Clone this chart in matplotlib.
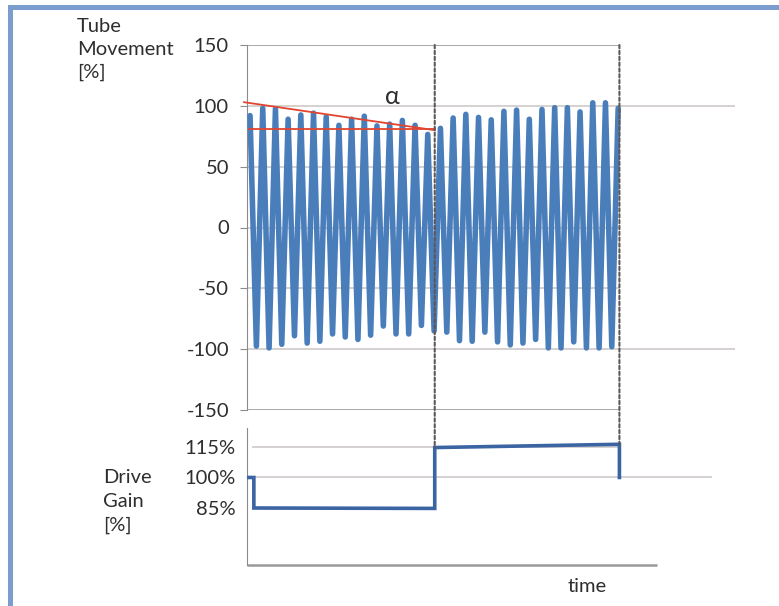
import numpy as np
import matplotlib
matplotlib.use("Agg")
import matplotlib.pyplot as plt
from matplotlib.patches import Rectangle, ConnectionPatch

plt.rcParams['font.family'] = ['Lato', 'DejaVu Sans']
plt.rcParams['axes.unicode_minus'] = False

# Tube movement: successive peak / trough values of the oscillation [%]
peaks = [92, 98, 97.5, 89, 92.5, 94, 91, 84, 89, 91.5, 83.5, 85, 88, 84, 76.5,
         81.5, 90, 93, 90.5, 88.5, 95.5, 96.5, 89, 97, 98.5, 98.5, 95, 102.5, 102.5, 98]
troughs = [-97.5, -99, -96, -89, -95, -93.5, -87.5, -90, -92, -88.5, -81, -87.5, -87.5, -80.5, -85,
           -86, -93, -93.5, -86, -94, -96.5, -95, -92, -99, -99, -94, -99, -99, -98]

# Drive gain step profile (time in oscillation cycles, value in %)
gain_t = [-0.24, 0.3, 0.3, 14.55, 14.55, 29.1, 29.1]
gain_v = [100, 100, 85, 84.8, 114.7, 116.3, 100]

# Red envelope lines (angle alpha)
slope_t = [-0.47, 14.55]
slope_v = [103, 80]
flat_t = [-0.1, 14.6]
flat_v = [81, 81]

top_ticks = [-150, -100, -50, 0, 50, 100, 150]
gain_ticks = [85, 100, 115]
gain_labels = ['85%', '100%', '115%']

# interleave peaks and troughs, half a cycle apart
movement = []
for i, p in enumerate(peaks):
    movement.append(p)
    if i < len(troughs):
        movement.append(troughs[i])
movement_t = np.arange(len(movement)) * 0.5

W, H = 779, 606
fig = plt.figure(figsize=(W / 100, H / 100), dpi=100)

# blue page frame
fig.add_artist(Rectangle((8 / W, 1 - 10 / H), 1, 5 / H, transform=fig.transFigure,
                         color='#7B9DCE', lw=0))
fig.add_artist(Rectangle((8 / W, 0), 5 / W, 1 - 5 / H, transform=fig.transFigure,
                         color='#7B9DCE', lw=0))

x0, x1 = 247, 740
xlim = (-0.24, 38.6)
grid_c = '#CBC5C5'
spine_c = '#8C8C8C'
text_c = '#2E2E2E'

ax1 = fig.add_axes([x0 / W, (H - 410) / H, (x1 - x0) / W, (410 - 45) / H])
ax2 = fig.add_axes([x0 / W, (H - 565) / H, (x1 - x0) / W, (565 - 428) / H])

# ---- top: tube movement ----
ax1.set_xlim(*xlim)
ax1.set_ylim(-150, 150)
for s in ['top', 'right', 'bottom']:
    ax1.spines[s].set_visible(False)
ax1.spines['left'].set_color(spine_c)
ax1.set_xticks([])
ax1.set_yticks(top_ticks)
ax1.tick_params(axis='y', length=5, color=spine_c, labelsize=14.5, labelcolor=text_c, pad=8)

ax1.hlines([150, -150], xlim[0], 29.15, color='#999999', lw=1.2, zorder=1)
ax1.hlines([50, 0, -50], xlim[0], 29.1, color=grid_c, lw=1.1, zorder=1)
ax1.hlines([100, -100], xlim[0], 38.2, color=grid_c, lw=1.1, zorder=1)

ax1.plot(movement_t, movement, color='#4A7EBB', lw=4.0, solid_joinstyle='round',
         solid_capstyle='round', zorder=3)
ax1.plot(slope_t, slope_v, color='#E2452F', lw=1.3, zorder=4, clip_on=False)
ax1.plot(flat_t, flat_v, color='#E2452F', lw=1.3, zorder=4)
ax1.text(11.25, 108, 'α', fontsize=18, color=text_c, ha='center', va='center')

# ---- bottom: drive gain ----
ax2.set_xlim(*xlim)
ax2.set_ylim(57, 124.3)
for s in ['top', 'right', 'bottom']:
    ax2.spines[s].set_visible(False)
ax2.spines['left'].set_color(spine_c)
ax2.set_xticks([])
ax2.set_yticks(gain_ticks)
ax2.set_yticklabels(gain_labels)
ax2.tick_params(axis='y', length=0, labelsize=14.5, labelcolor=text_c, pad=8)

ax2.hlines(115, 0.15, 29.0, color=grid_c, lw=1.1, zorder=1)
ax2.hlines(100, 0.15, 36.4, color=grid_c, lw=1.1, zorder=1)
ax2.hlines(57, xlim[0], 32.1, color='#999999', lw=1.8, zorder=1, clip_on=False)

ax2.plot(gain_t, gain_v, color='#3A64A2', lw=2.6, zorder=3, solid_joinstyle='miter')

# dashed markers linking both panels
for t, v in [(gain_t[3], gain_v[4]), (gain_t[5], gain_v[5])]:
    con = ConnectionPatch(xyA=(t, 150), coordsA=ax1.transData, xyB=(t, v), coordsB=ax2.transData,
                          color='#5E5757', lw=1.5, linestyle=(0, (1.6, 1.2)), zorder=5)
    fig.add_artist(con)

# axis titles
fig.text(77 / W, 1 - 18 / H, 'Tube\nMovement\n[%]', fontsize=14.5, color=text_c,
         ha='left', va='top', linespacing=1.4)
fig.text(103 / W, 1 - 469 / H, 'Drive\nGain\n[%]', fontsize=14.5, color=text_c,
         ha='left', va='top', linespacing=1.5)
fig.text(587 / W, 1 - 587 / H, 'time', fontsize=14.5, color=text_c, ha='center', va='center')

fig.savefig('out.png', dpi=100)
